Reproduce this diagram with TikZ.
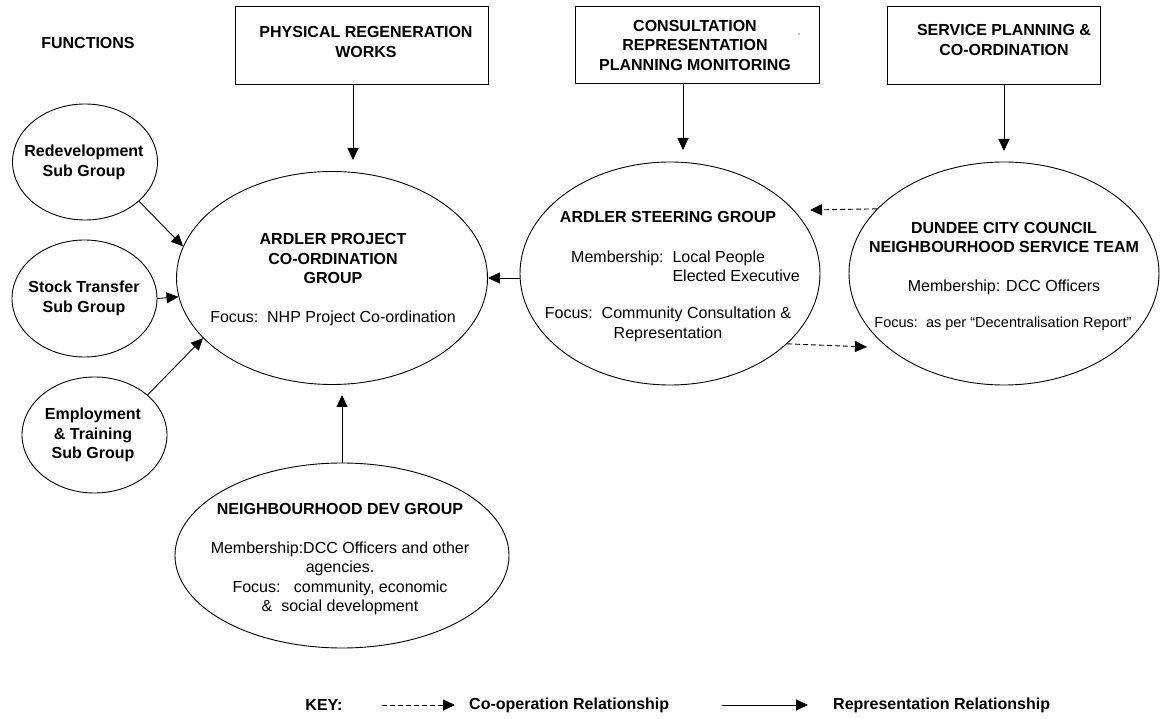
\documentclass[tikz,border=0pt]{standalone}
\usepackage{fontspec}
\setmainfont{Liberation Sans}
\usetikzlibrary{arrows.meta,shapes.geometric}

\begin{document}
\begin{tikzpicture}[x=1pt, y=-1pt,
    every node/.style={inner sep=0pt},
    hd/.style={font=\fontsize{16}{19.5}\selectfont\bfseries, align=center},
    bd/.style={font=\fontsize{16}{19.5}\selectfont, align=center},
    fnbox/.style={draw, line width=0.9pt, rectangle},
    grp/.style={draw, line width=0.9pt, ellipse},
    rep/.style={line width=0.9pt, -{Triangle[length=12pt,width=11pt]}},
    coop/.style={rep, dash pattern=on 5pt off 3pt}]
        \useasboundingbox (0,0) rectangle (1160,719);

        % function boxes along the top
        \node[hd] (fnlbl) at (88,43) {FUNCTIONS};
        \node[fnbox, minimum width=253pt, minimum height=78pt] (physbox) at (361.5,45) {};
        \node[fnbox, minimum width=244pt, minimum height=77pt] (consbox) at (697,44.5) {};
        \node[fnbox, minimum width=213pt, minimum height=78pt] (servbox) at (993.5,45) {};
        \node[hd] (phystxt) at (366,42) {PHYSICAL REGENERATION\\WORKS};
        \node[hd] (constxt) at (695,45) {CONSULTATION\\REPRESENTATION\\PLANNING MONITORING};
        \node[hd] (servtxt) at (1004,40) {SERVICE PLANNING \&\\CO-ORDINATION};
        \fill (799,34) circle (0.7pt);

        % groups
        \node[grp, minimum width=311pt, minimum height=213pt] (apcg) at (332,278) {};
        \node[grp, minimum width=145pt, minimum height=116pt] (redev) at (85,162) {};
        \node[grp, minimum width=145pt, minimum height=117pt] (stock) at (84.5,298.5) {};
        \node[grp, minimum width=145pt, minimum height=116pt] (employ) at (94.5,435) {};
        \node[grp, minimum width=300pt, minimum height=223pt] (steer) at (670,273.5) {};
        \node[grp, minimum width=310pt, minimum height=223pt] (dcc) at (1004,273.5) {};
        \node[grp, minimum width=334pt, minimum height=185pt] (ndg) at (342,555.5) {};

        % group texts
        \node[hd] (redevtxt) at (84,162.5) {Redevelopment\\Sub Group};
        \node[hd] (stocktxt) at (84,298.5) {Stock Transfer\\Sub Group};
        \node[hd] (employtxt) at (93,435) {Employment\\\& Training\\Sub Group};
        \node[bd] (apcgtxt) at (333,280) {\textbf{ARDLER PROJECT}\\\textbf{CO-ORDINATION}\\\textbf{GROUP}\\[19.5pt]Focus:\ \ NHP Project Co-ordination};
        \node[hd] (steertitle) at (668,217) {ARDLER STEERING GROUP};
        \node[bd, align=left, anchor=west] (steermem) at (571,266.5) {Membership:\ \ Local People\\\hphantom{Membership:\ \ }Elected Executive};
        \node[bd] (steerfocus) at (668,324.5) {Focus:\ \ Community Consultation \&\\Representation};
        \node[bd] (dcctxt) at (1004,258.5) {\textbf{DUNDEE CITY COUNCIL}\\\textbf{NEIGHBOURHOOD SERVICE TEAM}\\[19.5pt]Membership: DCC Officers};
        \node[font=\fontsize{14.5}{17}\selectfont] (dccfocus) at (1003,324) {Focus:\ \ as per \textquotedblleft Decentralisation Report\textquotedblright};
        \node[bd] (ndgtxt) at (340,559) {\textbf{NEIGHBOURHOOD DEV GROUP}\\[19.5pt]Membership:DCC Officers and other\\agencies.\\Focus:\ \ \ community, economic\\\&\ \ social development};

        % representation links
        \coordinate (physend) at (353,160);
        \coordinate (consend) at (683,150);
        \coordinate (servend) at (1004,151);
        \coordinate (ndgend) at (342,395);
        \draw[rep] (physend |- physbox.south) -- (physend);
        \draw[rep] (consend |- consbox.south) -- (consend);
        \draw[rep] (servend |- servbox.south) -- (servend);
        \draw[rep] (redev.-36.5) -- (apcg.168.4);
        \draw[rep] (stock.east) -- (apcg.187.5);
        \draw[rep] (employ.37.5) -- (apcg.205.3);
        \draw[rep] (ndg.north) -- (ndgend);
        \draw[rep] (steer.west |- apcg.east) -- (apcg.east);

        % co-operation links
        \coordinate (coopleft) at (810,210);
        \coordinate (coopright) at (867,347);
        \draw[coop] (dcc.153.4) -- (coopleft);
        \draw[coop] (steer.-31.7) -- (coopright);

        % key
        \node[hd] (keylbl) at (324,705) {KEY:};
        \coordinate (keycoopA) at (382,705);
        \coordinate (keycoopB) at (455,705);
        \coordinate (keyrepA) at (722,705);
        \coordinate (keyrepB) at (808,705);
        \draw[coop] (keycoopA) -- (keycoopB);
        \draw[rep] (keyrepA) -- (keyrepB);
        \node[hd, anchor=west] (cooptxt) at (469,705) {Co-operation Relationship};
        \node[hd, anchor=west] (reptxt) at (833,705) {Representation Relationship};
\end{tikzpicture}
\end{document}
